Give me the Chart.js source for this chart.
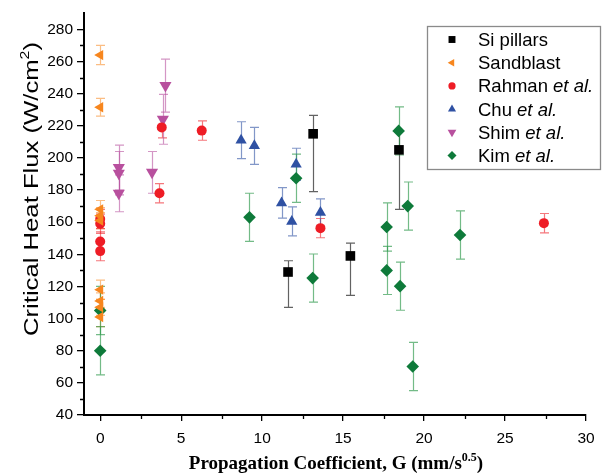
<!DOCTYPE html>
<html>
<head>
<meta charset="utf-8">
<script src="https://cdn.jsdelivr.net/npm/chart.js@4.4.0/dist/chart.umd.min.js"></script>
<style>
  html, body { margin: 0; padding: 0; background: #fff; }
</style>
</head>
<body>
<canvas id="myChart" width="607" height="475"></canvas>
<script>
// axis ticks
var xTicks = [0, 5, 10, 15, 20, 25, 30];
var xMinor = [2.5, 7.5, 12.5, 17.5, 22.5, 27.5];
var yTicks = [40, 60, 80, 100, 120, 140, 160, 180, 200, 220, 240, 260, 280];
var yMinor = [50, 70, 90, 110, 130, 150, 170, 190, 210, 230, 250, 270];

// Si pillars
var siG = [11.6, 13.15, 15.45, 18.45];
var siChf = [129, 215, 139, 205];
var siErrUp = [7, 11.5, 8, 12];
var siErrDown = [22, 36, 24.5, 37];

// Sandblast
var sandG = [0, 0, 0, 0, 0, 0, 0, 0, 0];
var sandChf = [264, 231.5, 168, 164, 161, 118, 111, 107, 101];
var sandErr = [6, 5.5, 5.5, 5, 5, 6, 5, 5, 6];

// Rahman et al.
var rahmanG = [0, 0, 0, 0, 3.66, 3.8, 6.27, 13.6, 27.4];
var rahmanChf = [162, 159, 148, 142, 178, 219, 217, 156.3, 159.4];
var rahmanErr = [6, 6, 6, 6, 6, 6.5, 6, 6, 6];

// Chu et al.
var chuG = [8.7, 9.52, 11.2, 11.83, 12.1, 13.6];
var chuChf = [211, 207.5, 172, 160.5, 196, 166];
var chuErr = [11.5, 11.5, 9.5, 9, 10, 8.5];

// Shim et al.
var shimG = [1.15, 1.15, 1.15, 3.2, 3.87, 4.03];
var shimChf = [194, 190.5, 178, 191, 224, 245];
var shimErr = [14, 13.5, 11.5, 13, 15.5, 16.5];

// Kim et al.
var kimG = [0, 0, 9.22, 12.1, 13.12, 17.69, 17.69, 18.43, 18.52, 18.99, 19.3, 22.22];
var kimChf = [105, 80, 163, 187.3, 125.2, 157, 130, 216.8, 120.2, 170, 70.2, 152];
var kimErr = [15, 15, 15, 15, 15, 15, 15, 15, 15, 15, 15, 15];

var seriesNames = ["Si pillars", "Sandblast", "Rahman", "Chu", "Shim", "Kim"];
var seriesItalic = ["", "", "et al.", "et al.", "et al.", "et al."];

function pts(xs, ys) {
    return xs.map(function (x, i) { return { x: x, y: ys[i] }; });
}

function series(i, xs, ys, up, down, style) {
    return Object.assign({
        label: seriesNames[i],
        italic: seriesItalic[i],
        data: pts(xs, ys),
        errUp: up,
        errDown: down,
        showLine: false,
        borderWidth: 0,
        pointBorderWidth: 0,
        pointHoverRadius: 6,
        clip: false
    }, style);
}

// draws one marker shape, same geometry Chart.js uses
function drawMarker(ctx, style, rot, r, x, y) {
    ctx.beginPath();
    if (style === 'circle') {
        ctx.arc(x, y, r, 0, Math.PI * 2);
    } else if (style === 'rect') {
        var s = r * Math.SQRT1_2;
        ctx.rect(x - s, y - s, 2 * s, 2 * s);
    } else if (style === 'rectRot') {
        ctx.moveTo(x - r, y); ctx.lineTo(x, y - r); ctx.lineTo(x + r, y); ctx.lineTo(x, y + r);
    } else if (style === 'triangle') {
        var a = (rot || 0) * Math.PI / 180;
        ctx.moveTo(x + Math.sin(a) * r, y - Math.cos(a) * r);
        a += 2 * Math.PI / 3;
        ctx.lineTo(x + Math.sin(a) * r, y - Math.cos(a) * r);
        a += 2 * Math.PI / 3;
        ctx.lineTo(x + Math.sin(a) * r, y - Math.cos(a) * r);
    }
    ctx.closePath();
    ctx.fill();
}

// text made of runs with own font and vertical shift
function runsWidth(ctx, runs) {
    var w = 0;
    runs.forEach(function (r) { ctx.font = r.font; w += ctx.measureText(r.text).width; });
    return w;
}
function drawRuns(ctx, runs, x, y) {
    runs.forEach(function (r) {
        ctx.font = r.font;
        ctx.fillText(r.text, x, y - (r.rise || 0));
        x += ctx.measureText(r.text).width;
    });
}

var errorBars = {
    id: 'errorBars',
    beforeDatasetsDraw: function (chart) {
        var ctx = chart.ctx, xs = chart.scales.x, ys = chart.scales.y;
        ctx.save();
        chart.data.datasets.forEach(function (ds) {
            ctx.strokeStyle = ds.errColor;
            ctx.lineWidth = 1.2;
            ds.data.forEach(function (p, i) {
                var px = Math.round(xs.getPixelForValue(p.x)) + 0.5;
                var top = ys.getPixelForValue(p.y + ds.errUp[i]);
                var bot = ys.getPixelForValue(p.y - ds.errDown[i]);
                ctx.beginPath();
                ctx.moveTo(px, top); ctx.lineTo(px, bot);
                ctx.moveTo(px - 4.5, top); ctx.lineTo(px + 4.5, top);
                ctx.moveTo(px - 4.5, bot); ctx.lineTo(px + 4.5, bot);
                ctx.stroke();
            });
        });
        ctx.restore();
    }
};

var decorations = {
    id: 'decorations',
    afterDraw: function (chart) {
        var ctx = chart.ctx, xs = chart.scales.x, ys = chart.scales.y, a = chart.chartArea;
        ctx.save();
        // minor ticks
        ctx.strokeStyle = '#000';
        ctx.lineWidth = 1.3;
        ctx.beginPath();
        xMinor.forEach(function (v) {
            var px = Math.round(xs.getPixelForValue(v)) + 0.5;
            ctx.moveTo(px, a.bottom); ctx.lineTo(px, a.bottom + 4);
        });
        yMinor.forEach(function (v) {
            var py = Math.round(ys.getPixelForValue(v)) + 0.5;
            ctx.moveTo(a.left, py); ctx.lineTo(a.left - 4, py);
        });
        ctx.stroke();

        ctx.fillStyle = '#000';
        ctx.textBaseline = 'alphabetic';

        // x title
        var xr = [
            { text: 'Propagation Coefficient, G (mm/s', font: 'bold 19px "Liberation Serif"' },
            { text: '0.5', font: 'bold 12px "Liberation Serif"', rise: 8 },
            { text: ')', font: 'bold 19px "Liberation Serif"' }
        ];
        var xw = runsWidth(ctx, xr);
        drawRuns(ctx, xr, 336 - xw / 2, 469);

        // y title
        var yr = [
            { text: 'Critical Heat Flux (W/cm', font: '21px "Liberation Sans"' },
            { text: '2', font: '13px "Liberation Sans"', rise: 9 },
            { text: ')', font: '21px "Liberation Sans"' }
        ];
        var yw = runsWidth(ctx, yr);
        var stretch = 294 / yw;
        ctx.save();
        ctx.translate(38, 189);
        ctx.rotate(-Math.PI / 2);
        ctx.scale(stretch, 1);
        drawRuns(ctx, yr, -yw / 2, 0);
        ctx.restore();

        // legend box
        var lx = 427, ly = 26, lw = 173, lh = 143;
        ctx.fillStyle = '#fff';
        ctx.fillRect(lx, ly, lw, lh);
        ctx.strokeStyle = '#8a8a8a';
        ctx.lineWidth = 1.3;
        ctx.strokeRect(lx + 0.5, ly + 0.5, lw, lh);
        chart.data.datasets.forEach(function (ds, i) {
            var cy = 39.5 + i * 23.2;
            ctx.fillStyle = ds.backgroundColor;
            drawMarker(ctx, ds.pointStyle, ds.rotation, ds.pointRadius * 0.72, 452, cy);
            ctx.fillStyle = '#000';
            var f = '18.5px "Liberation Sans"';
            var runs = [{ text: ds.label, font: f }];
            if (ds.italic) {
                runs.push({ text: ' ', font: f });
                runs.push({ text: ds.italic, font: 'italic ' + f });
            }
            drawRuns(ctx, runs, 478, cy + 6.5);
        });
        ctx.restore();
    }
};

var ctx = document.getElementById('myChart').getContext('2d');
var chart = new Chart(ctx, {
    type: 'scatter',
    data: {
        datasets: [
            series(0, siG, siChf, siErrUp, siErrDown, {
                pointStyle: 'rect', pointRadius: 6.8, backgroundColor: '#000000', borderColor: '#000000',
                errColor: 'rgba(70,70,70,0.85)'
            }),
            series(1, sandG, sandChf, sandErr, sandErr, {
                pointStyle: 'triangle', rotation: -90, pointRadius: 6, backgroundColor: '#F7861E', borderColor: '#F7861E',
                errColor: 'rgba(247,134,30,0.55)'
            }),
            series(2, rahmanG, rahmanChf, rahmanErr, rahmanErr, {
                pointStyle: 'circle', pointRadius: 5, backgroundColor: '#EE1C25', borderColor: '#EE1C25',
                errColor: 'rgba(238,28,37,0.6)'
            }),
            series(3, chuG, chuChf, chuErr, chuErr, {
                pointStyle: 'triangle', rotation: 0, pointRadius: 6.5, backgroundColor: '#2F51A3', borderColor: '#2F51A3',
                errColor: 'rgba(47,81,163,0.6)'
            }),
            series(4, shimG, shimChf, shimErr, shimErr, {
                pointStyle: 'triangle', rotation: 180, pointRadius: 7, backgroundColor: '#B8509E', borderColor: '#B8509E',
                errColor: 'rgba(184,80,158,0.6)'
            }),
            series(5, kimG, kimChf, kimErr, kimErr, {
                pointStyle: 'rectRot', pointRadius: 6.3, backgroundColor: '#0E7A3A', borderColor: '#0E7A3A',
                errColor: 'rgba(40,150,70,0.65)'
            })
        ]
    },
    options: {
        responsive: false,
        animation: false,
        layout: { padding: { left: 0, top: 12, right: 21, bottom: 0 } },
        plugins: {
            legend: { display: false },
            tooltip: { enabled: false }
        },
        scales: {
            x: {
                type: 'linear',
                min: -1,
                max: 30,
                afterBuildTicks: function (s) { s.ticks = xTicks.map(function (v) { return { value: v }; }); },
                afterFit: function (s) { s.height = 60; },
                ticks: { color: '#000', font: { family: 'Liberation Sans', size: 15.5 }, padding: 8, maxRotation: 0, autoSkip: false },
                grid: { drawOnChartArea: false, tickLength: 6, color: '#000', lineWidth: 1.3 },
                border: { color: '#000', width: 2 }
            },
            y: {
                type: 'linear',
                min: 40,
                max: 290,
                afterBuildTicks: function (s) { s.ticks = yTicks.map(function (v) { return { value: v }; }); },
                afterFit: function (s) { s.width = 84; },
                ticks: { color: '#000', font: { family: 'Liberation Sans', size: 15.5 }, padding: 4, autoSkip: false },
                grid: { drawOnChartArea: false, tickLength: 7, color: '#000', lineWidth: 1.3 },
                border: { color: '#000', width: 2 }
            }
        }
    },
    plugins: [errorBars, decorations]
});
</script>
</body>
</html>
